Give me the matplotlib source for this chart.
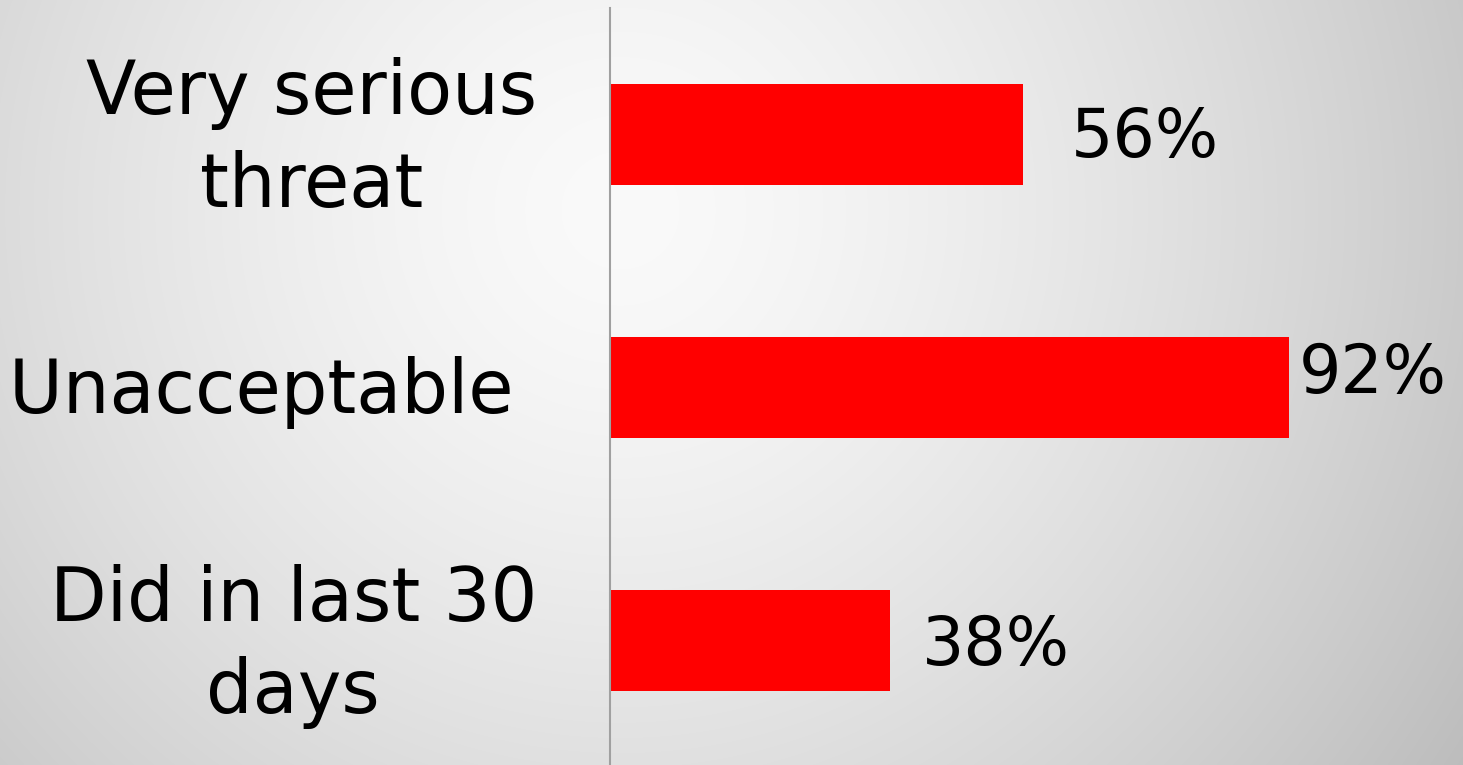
import numpy as np
import matplotlib
matplotlib.use("Agg")
import matplotlib.pyplot as plt

categories = ["Very serious\nthreat", "Unacceptable ", "Did in last 30\ndays"]
values = [56, 92, 38]
value_labels = ["56%", "92%", "38%"]

W, H, DPI = 1463, 765, 100
fig = plt.figure(figsize=(W / DPI, H / DPI), dpi=DPI)

# radial gradient background
bg = fig.add_axes([0, 0, 1, 1], zorder=0)
yy, xx = np.mgrid[0:H, 0:W]
cx, cy = 620, 210
r = np.sqrt((xx - cx) ** 2 + (yy - cy) ** 2)
rn = np.clip(r / 1015.0, 0, 1)
val = 250 - 62 * rn ** 1.45
img = np.dstack([val, val, val]) / 255.0
bg.imshow(img, aspect="auto", interpolation="bilinear")
bg.set_axis_off()

ax = fig.add_axes([610 / W, -2 / H, 737.5 / W, 759 / H], zorder=1)
ax.set_facecolor("none")
y = np.arange(len(categories))
ax.barh(y, values, height=0.4, color="#ff0000")
ax.set_xlim(0, 100)
ax.set_ylim(2.5, -0.5)

ax.set_yticks([])
ax.set_xticks([])
for s in ["top", "right", "bottom"]:
    ax.spines[s].set_visible(False)
ax.spines["left"].set_color("#a0a0a0")
ax.spines["left"].set_linewidth(1.5)

# category labels (offsets in pixels from axis / bar center)
cat_offsets = [(-73, 12), (-73, 3), (-73, 12)]
for yi, c, (dx, dy) in zip(y, categories, cat_offsets):
    ax.annotate(c, xy=(0, yi), xytext=(dx, dy), textcoords="offset pixels",
                ha="right", va="center_baseline", multialignment="center",
                fontsize=53, color="black", linespacing=1.34,
                annotation_clip=False)

# data labels (offsets in pixels from bar end / bar center)
offsets = [(48, -22), (10, -5), (32, -24.5)]
for yi, v, t, (dx, dy) in zip(y, values, value_labels, offsets):
    ax.annotate(t, xy=(v, yi), xytext=(dx, dy), textcoords="offset pixels",
                ha="left", va="baseline", fontsize=48, color="black")

fig.savefig("out.png", dpi=DPI)
